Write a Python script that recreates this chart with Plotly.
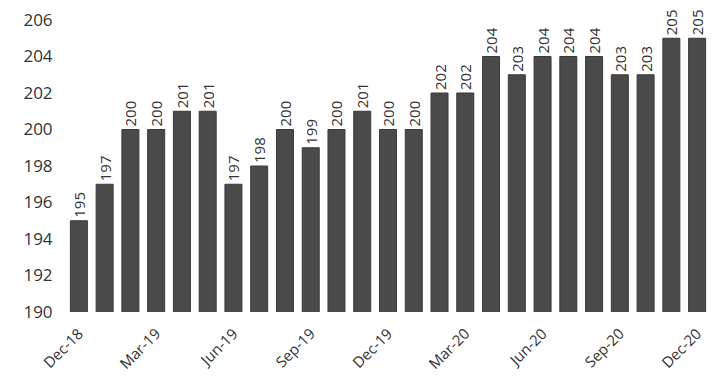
import plotly.graph_objects as go

months = ["Dec-18", "Jan-19", "Feb-19", "Mar-19", "Apr-19", "May-19", "Jun-19",
          "Jul-19", "Aug-19", "Sep-19", "Oct-19", "Nov-19", "Dec-19",
          "Jan-20", "Feb-20", "Mar-20", "Apr-20", "May-20", "Jun-20",
          "Jul-20", "Aug-20", "Sep-20", "Oct-20", "Nov-20", "Dec-20"]
values = [195, 197, 200, 200, 201, 201, 197, 198, 200, 199, 200, 201, 200,
          200, 202, 202, 204, 203, 204, 204, 204, 203, 203, 205, 205]
tick_labels = ["Dec-18", "Mar-19", "Jun-19", "Sep-19", "Dec-19",
               "Mar-20", "Jun-20", "Sep-20", "Dec-20"]
y_ticks = [190, 192, 194, 196, 198, 200, 202, 204, 206]

fig = go.Figure(go.Bar(
    x=months, y=values,
    marker=dict(color="#4a4a4a", line=dict(color="#3a3a3a", width=1)),
    text=[str(v) for v in values],
    textposition="outside",
    textangle=-90,
    constraintext="none",
    textfont=dict(size=15, color="#333333"),
    cliponaxis=False,
))

fig.update_layout(
    width=712, height=391,
    margin=dict(l=66, r=2, t=20, b=79),
    paper_bgcolor="white", plot_bgcolor="white",
    font=dict(family="Open Sans", color="#333333"),
    bargap=0.34,
    showlegend=False,
)
fig.update_xaxes(
    type="category",
    tickmode="array", tickvals=tick_labels, ticktext=tick_labels,
    tickangle=-45, tickfont=dict(size=15, color="#333333"),
    showline=False, showgrid=False,
    ticks="outside", ticklen=6, tickcolor="rgba(0,0,0,0)",
    range=[-0.5, 24.5],
)
fig.update_yaxes(
    range=[190, 206], tickvals=y_ticks,
    tickfont=dict(size=17, color="#333333"),
    showgrid=False, zeroline=False, showline=False,
    ticks="outside", ticklen=9, tickcolor="rgba(0,0,0,0)",
)

fig.write_html("out.html")
